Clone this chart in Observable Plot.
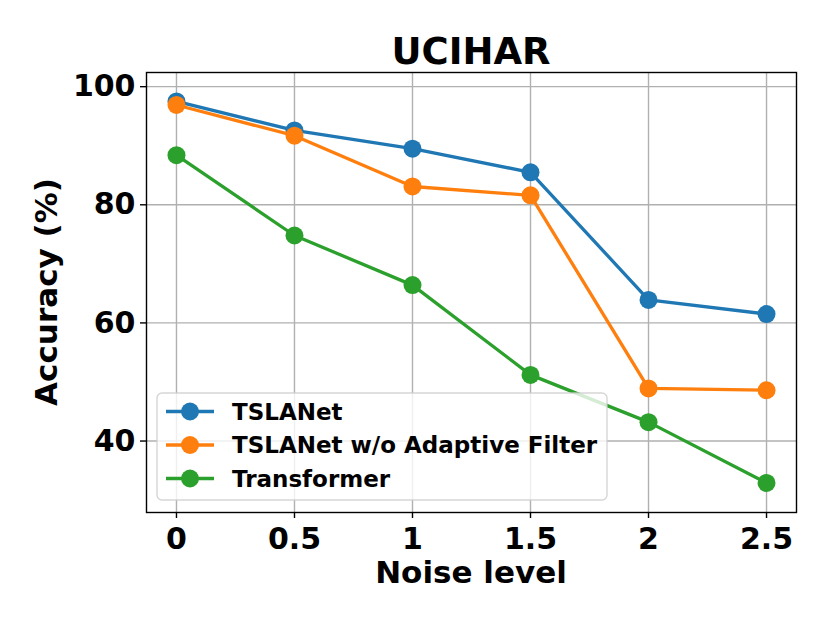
<!DOCTYPE html>
<html><head><meta charset="utf-8">
<script src="https://cdn.jsdelivr.net/npm/d3@7"></script>
<script src="https://cdn.jsdelivr.net/npm/@observablehq/plot@0.6"></script>
<style>body{margin:0;background:#fff} #chart svg{display:block}</style>
</head><body><div id="chart"></div>
<script>
const noiseLevels = [0, 0.5, 1, 1.5, 2, 2.5];
const xTickLabels = ["0", "0.5", "1", "1.5", "2", "2.5"];
const yTicks = [40, 60, 80, 100];
const seriesNames = ["TSLANet", "TSLANet w/o Adaptive Filter", "Transformer"];
const seriesColors = ["#1f77b4", "#ff7f0e", "#2ca02c"];
const tslanet = [97.5, 92.6, 89.5, 85.5, 63.9, 61.5];
const noFilter = [96.9, 91.7, 83.1, 81.6, 48.9, 48.6];
const transformer = [88.4, 74.8, 66.4, 51.2, 43.2, 32.9];
const titleText = "UCIHAR";
const xLabel = "Noise level";
const yLabel = "Accuracy (%)";

const seriesValues = [tslanet, noFilter, transformer];
const data = seriesNames.map((name, i) =>
  noiseLevels.map((x, j) => ({series: name, x, y: seriesValues[i][j]})));

const W = 830, H = 623;
const mL = 146, mR = 34, mT = 72, mB = 111;
const font = "DejaVu Sans";

const marks = [
  Plot.gridX(noiseLevels, {stroke: "#b0b0b0", strokeOpacity: 1, strokeWidth: 1.4}),
  Plot.gridY(yTicks, {stroke: "#b0b0b0", strokeOpacity: 1, strokeWidth: 1.4}),
];
data.forEach((d, i) => {
  marks.push(Plot.line(d, {x: "x", y: "y", stroke: seriesColors[i], strokeWidth: 3.3}));
  marks.push(Plot.dot(d, {x: "x", y: "y", r: 9, fill: seriesColors[i], stroke: null}));
});
marks.push(Plot.frame({stroke: "#000", strokeWidth: 1.4}));
marks.push(Plot.axisX(noiseLevels, {
  tickSize: 6, tickPadding: 9, strokeWidth: 1.4, label: null,
  tickFormat: d => xTickLabels[noiseLevels.indexOf(d)],
  fontSize: 30, fontWeight: "bold", fill: "#000"
}));
marks.push(Plot.axisY(yTicks, {
  tickSize: 6, tickPadding: 5, strokeWidth: 1.4, label: null,
  tickFormat: d => String(d),
  fontSize: 30, fontWeight: "bold", fill: "#000"
}));

const chart = Plot.plot({
  width: W, height: H,
  marginLeft: mL, marginRight: mR, marginTop: mT, marginBottom: mB,
  x: {domain: [-0.127, 2.627]},
  y: {domain: [27.9, 102.4]},
  style: {fontFamily: font, background: "#fff", color: "#000", overflow: "visible"},
  marks
});
document.getElementById("chart").appendChild(chart);

const svg = d3.select(chart);
// title
svg.append("text").attr("x", mL + (W - mL - mR) / 2).attr("y", 64)
  .attr("text-anchor", "middle").attr("font-family", font).attr("font-weight", "bold")
  .attr("font-size", 37).attr("fill", "#000").text(titleText);
// x label
svg.append("text").attr("x", mL + (W - mL - mR) / 2).attr("y", 583)
  .attr("text-anchor", "middle").attr("font-family", font).attr("font-weight", "bold")
  .attr("font-size", 31).attr("fill", "#000").text(xLabel);
// y label
svg.append("text").attr("transform", `translate(57,${mT + (H - mT - mB) / 2}) rotate(-90)`)
  .attr("text-anchor", "middle").attr("font-family", font).attr("font-weight", "bold")
  .attr("font-size", 31).attr("fill", "#000").text(yLabel);

// legend
const lg = svg.append("g").attr("text-anchor", "start");
lg.append("rect").attr("x", 157).attr("y", 393).attr("width", 450).attr("height", 107)
  .attr("rx", 5).attr("fill", "#fff").attr("fill-opacity", 0.8)
  .attr("stroke", "#cccccc").attr("stroke-opacity", 0.8).attr("stroke-width", 1.4);
const rowY = [411.5, 445, 478.5];
seriesNames.forEach((name, i) => {
  const y = rowY[i];
  lg.append("line").attr("x1", 166).attr("x2", 214).attr("y1", y).attr("y2", y)
    .attr("stroke", seriesColors[i]).attr("stroke-width", 3.3);
  lg.append("circle").attr("cx", 190).attr("cy", y).attr("r", 9).attr("fill", seriesColors[i]);
  lg.append("text").attr("x", 232).attr("y", y + 8.3).attr("text-anchor", "start")
    .attr("font-family", font).attr("font-weight", "bold").attr("font-size", 23)
    .attr("fill", "#000").text(name);
});
</script>
</body></html>
